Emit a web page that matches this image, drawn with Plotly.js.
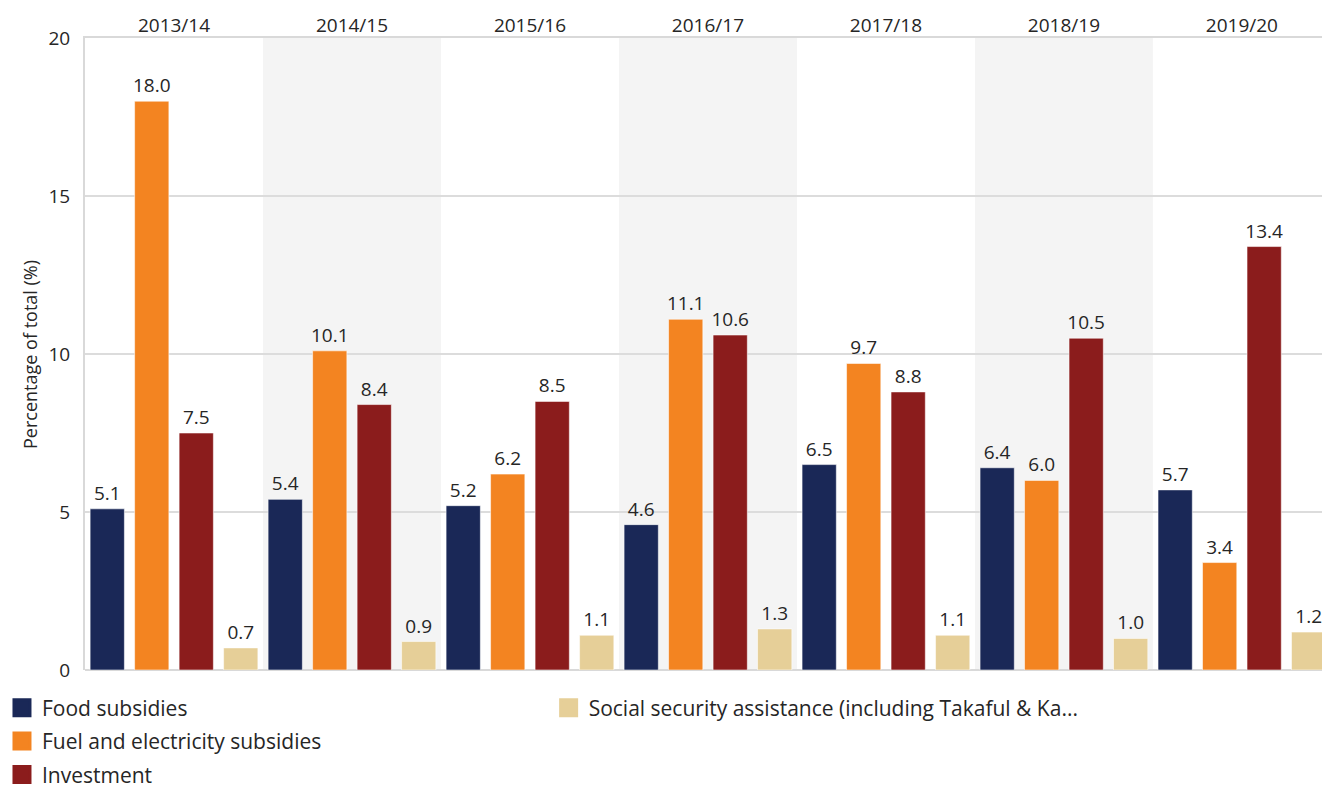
<!DOCTYPE html>
<html>
<head>
<meta charset="utf-8">
<script src="https://cdn.plot.ly/plotly-3.0.1.min.js"></script>
<style>html,body{margin:0;padding:0;background:#fff;}#chart{width:1322px;height:785px;}</style>
</head>
<body>
<div id="chart"></div>
<script>
const years = ["2013/14", "2014/15", "2015/16", "2016/17", "2017/18", "2018/19", "2019/20"];
const foodSubsidies = [5.1, 5.4, 5.2, 4.6, 6.5, 6.4, 5.7];
const fuelElectricity = [18.0, 10.1, 6.2, 11.1, 9.7, 6.0, 3.4];
const investment = [7.5, 8.4, 8.5, 10.6, 8.8, 10.5, 13.4];
const socialSecurity = [0.7, 0.9, 1.1, 1.3, 1.1, 1.0, 1.2];
const seriesNames = ["Food subsidies", "Fuel and electricity subsidies", "Investment", "Social security assistance (including Takaful & Ka..."];
const yTicks = [0, 5, 10, 15, 20];
const yTitle = "Percentage of total (%)";

const colors = ["#1a2857", "#f38421", "#8b1c1c", "#e6cf98"];
const seriesValues = [foodSubsidies, fuelElectricity, investment, socialSecurity];
const FONT = "Open Sans, Noto Sans, sans-serif";

const traces = [];
seriesValues.forEach((vals, i) => {
  traces.push({
    type: "bar",
    x: years,
    y: vals,
    name: seriesNames[i],
    showlegend: false,
    marker: {color: colors[i], line: {color: "rgba(255,255,255,0.55)", width: 1}},
    text: vals.map(v => v.toFixed(1)),
    textposition: "outside",
    textfont: {family: FONT, size: 19, color: "#262626"},
    cliponaxis: false,
    constraintext: "none",
    hoverinfo: "x+y+name"
  });
});
// legend entries
seriesValues.forEach((vals, i) => {
  traces.push({
    type: "scatter",
    mode: "markers",
    x: [null],
    y: [null],
    name: seriesNames[i],
    legend: i === 3 ? "legend2" : "legend",
    legendgroup: "g" + i,
    marker: {symbol: "square", size: 16, color: colors[i], line: {color: colors[i], width: 3}},
    hoverinfo: "skip"
  });
});

const shapes = [];
years.forEach((y, i) => {
  if (i % 2 === 1) {
    shapes.push({
      type: "rect", xref: "x", yref: "paper",
      x0: i - 0.5, x1: i + 0.5, y0: 0, y1: 1,
      fillcolor: "#f4f4f4", line: {width: 0}, layer: "below"
    });
  }
});

const legendCommon = {
  orientation: "v",
  xref: "container", yref: "container",
  yanchor: "top", xanchor: "left",
  y: 0.124,
  font: {family: FONT, size: 21, color: "#262626"},
  itemsizing: "trace",
  tracegroupgap: 3,
  bgcolor: "rgba(0,0,0,0)",
  borderwidth: 0
};

const layout = {
  width: 1322,
  height: 785,
  margin: {l: 85, r: 0, t: 38, b: 115, autoexpand: false},
  paper_bgcolor: "#ffffff",
  plot_bgcolor: "rgba(0,0,0,0)",
  font: {family: FONT, color: "#262626"},
  barmode: "group",
  bargap: 0,
  bargroupgap: 0.23,
  xaxis: {
    type: "category",
    side: "top",
    range: [-0.5, 6.45],
    tickangle: 0,
    automargin: false,
    showgrid: false,
    showline: true,
    linecolor: "#d9d9d9",
    linewidth: 2,
    ticks: "",
    ticklabelstandoff: -4,
    tickfont: {family: FONT, size: 19, color: "#262626"},
    fixedrange: true
  },
  yaxis: {
    range: [0, 20],
    automargin: false,
    tickvals: yTicks,
    ticktext: yTicks.map(String),
    showgrid: true,
    gridcolor: "#dcdcdc",
    gridwidth: 1.5,
    showline: true,
    linecolor: "#d9d9d9",
    linewidth: 2,
    zeroline: true,
    zerolinecolor: "#d9d9d9",
    zerolinewidth: 2,
    ticks: "outside",
    ticklen: 9,
    tickcolor: "rgba(0,0,0,0)",
    tickfont: {family: FONT, size: 19, color: "#262626"},
    fixedrange: true
  },
  annotations: [{
    text: yTitle,
    xref: "paper", yref: "paper",
    x: -0.0445, y: 0.5,
    xanchor: "center", yanchor: "middle",
    textangle: -90,
    showarrow: false,
    font: {family: FONT, size: 18, color: "#262626"}
  }],
  legend: Object.assign({}, legendCommon, {x: 0.0015}),
  legend2: Object.assign({}, legendCommon, {x: 0.415}),
  shapes: shapes,
  showlegend: true
};

Plotly.newPlot("chart", traces, layout, {displayModeBar: false});
</script>
</body>
</html>
